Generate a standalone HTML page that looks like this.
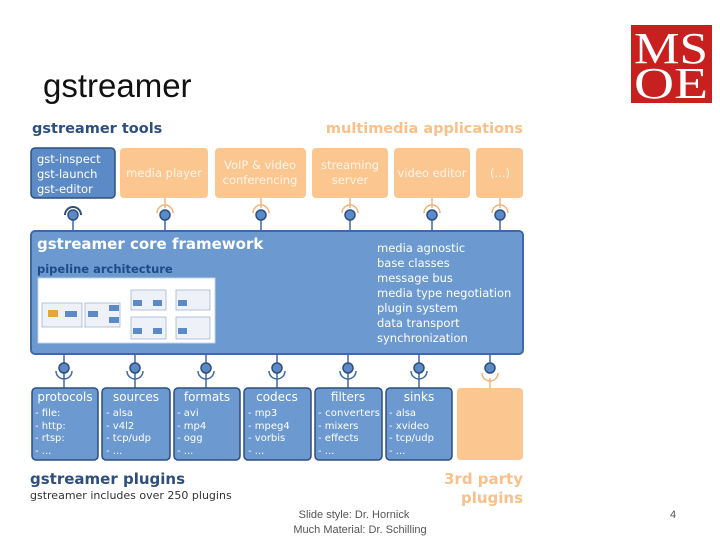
<!DOCTYPE html>
<html><head><meta charset="utf-8"><style>
body{margin:0;width:720px;height:540px;background:#fff;overflow:hidden;font-family:"DejaVu Sans","Liberation Sans",sans-serif}
</style></head><body>
<svg width="720" height="540" xmlns="http://www.w3.org/2000/svg" style="position:absolute;left:0;top:0">
<text x="43" y="97" font-family="Liberation Sans, sans-serif" font-size="33" fill="#111">gstreamer</text>
<rect x="631" y="25" width="81" height="78" fill="#c8201e"/>
<text x="671" y="63" text-anchor="middle" font-family="Liberation Serif, serif" font-size="44" fill="#fff" textLength="74" lengthAdjust="spacingAndGlyphs">MS</text>
<text x="671" y="98" text-anchor="middle" font-family="Liberation Serif, serif" font-size="44" fill="#fff" textLength="74" lengthAdjust="spacingAndGlyphs">OE</text>
<g font-family="DejaVu Sans, sans-serif" font-weight="bold" font-size="14.5">
<text x="32" y="133" fill="#2e4f7e">gstreamer tools</text>
<text x="523" y="133" text-anchor="end" fill="#f8c08a">multimedia applications</text>
</g>
<g stroke="#3d69a6" stroke-width="1.5" fill="none">
<line x1="73" y1="215" x2="73" y2="232"/><line x1="165" y1="215" x2="165" y2="232"/><line x1="261" y1="215" x2="261" y2="232"/><line x1="350" y1="215" x2="350" y2="232"/><line x1="432" y1="215" x2="432" y2="232"/><line x1="500" y1="215" x2="500" y2="232"/>
</g>
<g stroke="#f3b27a" stroke-width="1.5" fill="none">
<line x1="165" y1="198" x2="165" y2="208"/><line x1="261" y1="198" x2="261" y2="208"/><line x1="350" y1="198" x2="350" y2="208"/><line x1="432" y1="198" x2="432" y2="208"/><line x1="500" y1="198" x2="500" y2="208"/>
<path d="M157 213 A8 8 0 0 1 173 213"/><path d="M253 213 A8 8 0 0 1 269 213"/><path d="M342 213 A8 8 0 0 1 358 213"/><path d="M424 213 A8 8 0 0 1 440 213"/><path d="M492 213 A8 8 0 0 1 508 213"/>
</g>
<path d="M65 215 A8 8 0 0 1 81 215" stroke="#2e4f7e" stroke-width="2" fill="none"/>
<g fill="#5b8ac6" stroke="#2e4f7e" stroke-width="1.5">
<circle cx="73" cy="215" r="5"/><circle cx="165" cy="215" r="5"/><circle cx="261" cy="215" r="5"/><circle cx="350" cy="215" r="5"/><circle cx="432" cy="215" r="5"/><circle cx="500" cy="215" r="5"/>
</g>
<rect x="31" y="148" width="84" height="50" rx="4" fill="#5b8ac6" stroke="#2e4f7e" stroke-width="1.5"/>
<g fill="#fbc690">
<rect x="120" y="148" width="88" height="50" rx="4"/><rect x="215" y="148" width="91" height="50" rx="4"/><rect x="312" y="148" width="76" height="50" rx="4"/><rect x="394" y="148" width="76" height="50" rx="4"/><rect x="476" y="148" width="47" height="50" rx="4"/>
</g>
<g font-size="11.5" fill="#fff">
<text x="37" y="163">gst-inspect</text><text x="37" y="178">gst-launch</text><text x="37" y="193">gst-editor</text>
<g fill="#fff6ea" text-anchor="middle">
<text x="164" y="177">media player</text>
<text x="260" y="169">VoIP &amp; video</text><text x="260" y="184">conferencing</text>
<text x="350" y="169">streaming</text><text x="350" y="184">server</text>
<text x="432" y="177">video editor</text>
<text x="500" y="177">(...)</text>
</g></g>
<rect x="31" y="231" width="492" height="123" rx="4" fill="#6b99d0" stroke="#3d69a6" stroke-width="2"/>
<text x="37" y="249" font-weight="bold" font-size="15" fill="#fff">gstreamer core framework</text>
<text x="37" y="273" font-weight="bold" font-size="11.5" fill="#1f4a86">pipeline architecture</text>
<g font-size="11.5" fill="#fff">
<text x="377" y="252">media agnostic</text><text x="377" y="267">base classes</text><text x="377" y="282">message bus</text><text x="377" y="297">media type negotiation</text><text x="377" y="312">plugin system</text><text x="377" y="327">data transport</text><text x="377" y="342">synchronization</text>
</g>
<rect x="38" y="278" width="177" height="65" fill="#fff" stroke="#c5d4e8"/>
<g fill="#eef2f8" stroke="#9aaccc" stroke-width="0.7">
<rect x="42" y="303" width="40" height="24"/><rect x="85" y="303" width="35" height="24"/><rect x="131" y="290" width="35" height="20"/><rect x="131" y="317" width="35" height="22"/><rect x="176" y="290" width="34" height="20"/><rect x="176" y="317" width="34" height="22"/>
</g>
<g fill="#5b8ac6">
<rect x="65" y="311" width="12" height="6"/><rect x="88" y="311" width="10" height="6"/><rect x="109" y="305" width="10" height="6"/><rect x="109" y="317" width="10" height="6"/><rect x="133" y="300" width="9" height="6"/><rect x="153" y="300" width="9" height="6"/><rect x="133" y="328" width="9" height="6"/><rect x="153" y="328" width="9" height="6"/><rect x="178" y="300" width="9" height="6"/><rect x="178" y="328" width="9" height="6"/>
</g>
<rect x="48" y="310" width="10" height="7" fill="#e9a33c"/>
<g stroke="#3d69a6" stroke-width="1.5" fill="none">
<line x1="64" y1="354" x2="64" y2="388"/><line x1="135" y1="354" x2="135" y2="388"/><line x1="206" y1="354" x2="206" y2="388"/><line x1="277" y1="354" x2="277" y2="388"/><line x1="348" y1="354" x2="348" y2="388"/><line x1="419" y1="354" x2="419" y2="388"/><line x1="490" y1="354" x2="490" y2="368"/>
<path d="M56 371 A8 8 0 0 0 72 371"/><path d="M127 371 A8 8 0 0 0 143 371"/><path d="M198 371 A8 8 0 0 0 214 371"/><path d="M269 371 A8 8 0 0 0 285 371"/><path d="M340 371 A8 8 0 0 0 356 371"/><path d="M411 371 A8 8 0 0 0 427 371"/>
</g>
<g stroke="#f3b27a" stroke-width="1.5" fill="none"><path d="M482 373 A8 8 0 0 0 498 373"/><line x1="490" y1="378" x2="490" y2="388"/></g>
<g fill="#5b8ac6" stroke="#2e4f7e" stroke-width="1.5">
<circle cx="64" cy="368" r="5"/><circle cx="135" cy="368" r="5"/><circle cx="206" cy="368" r="5"/><circle cx="277" cy="368" r="5"/><circle cx="348" cy="368" r="5"/><circle cx="419" cy="368" r="5"/><circle cx="490" cy="368" r="5"/>
</g>
<g fill="#6b99d0" stroke="#2e4f7e" stroke-width="1.5">
<rect x="32" y="388" width="66" height="72" rx="4"/><rect x="102" y="388" width="68" height="72" rx="4"/><rect x="174" y="388" width="66" height="72" rx="4"/><rect x="244" y="388" width="67" height="72" rx="4"/><rect x="315" y="388" width="67" height="72" rx="4"/><rect x="386" y="388" width="66" height="72" rx="4"/>
</g>
<rect x="457" y="388" width="66" height="72" rx="4" fill="#fbc690"/>
<g font-size="12" fill="#fff" text-anchor="middle">
<text x="65" y="401">protocols</text><text x="136" y="401">sources</text><text x="207" y="401">formats</text><text x="277" y="401">codecs</text><text x="348" y="401">filters</text><text x="419" y="401">sinks</text>
</g>
<g font-size="10" fill="#fff">
<text x="35" y="416">- file:</text><text x="35" y="429">- http:</text><text x="35" y="441">- rtsp:</text><text x="35" y="454">- ...</text>
<text x="106" y="416">- alsa</text><text x="106" y="429">- v4l2</text><text x="106" y="441">- tcp/udp</text><text x="106" y="454">- ...</text>
<text x="177" y="416">- avi</text><text x="177" y="429">- mp4</text><text x="177" y="441">- ogg</text><text x="177" y="454">- ...</text>
<text x="248" y="416">- mp3</text><text x="248" y="429">- mpeg4</text><text x="248" y="441">- vorbis</text><text x="248" y="454">- ...</text>
<text x="318" y="416" textLength="62">- converters</text><text x="318" y="429">- mixers</text><text x="318" y="441">- effects</text><text x="318" y="454">- ...</text>
<text x="389" y="416">- alsa</text><text x="389" y="429">- xvideo</text><text x="389" y="441">- tcp/udp</text><text x="389" y="454">- ...</text>
</g>
<text x="30" y="484" font-weight="bold" font-size="15" fill="#2e4f7e">gstreamer plugins</text>
<text x="30" y="499" font-size="11" fill="#333">gstreamer includes over 250 plugins</text>
<text x="523" y="484" text-anchor="end" font-weight="bold" font-size="15" fill="#f8c08a">3rd party</text>
<text x="523" y="503" text-anchor="end" font-weight="bold" font-size="15" fill="#f8c08a">plugins</text>
<g font-family="Liberation Sans, sans-serif" font-size="11" fill="#555">
<text x="354" y="518" text-anchor="middle">Slide style: Dr. Hornick</text>
<text x="360" y="533" text-anchor="middle">Much Material: Dr. Schilling</text>
<text x="673" y="518" text-anchor="middle">4</text>
</g>
</svg>
</body></html>
